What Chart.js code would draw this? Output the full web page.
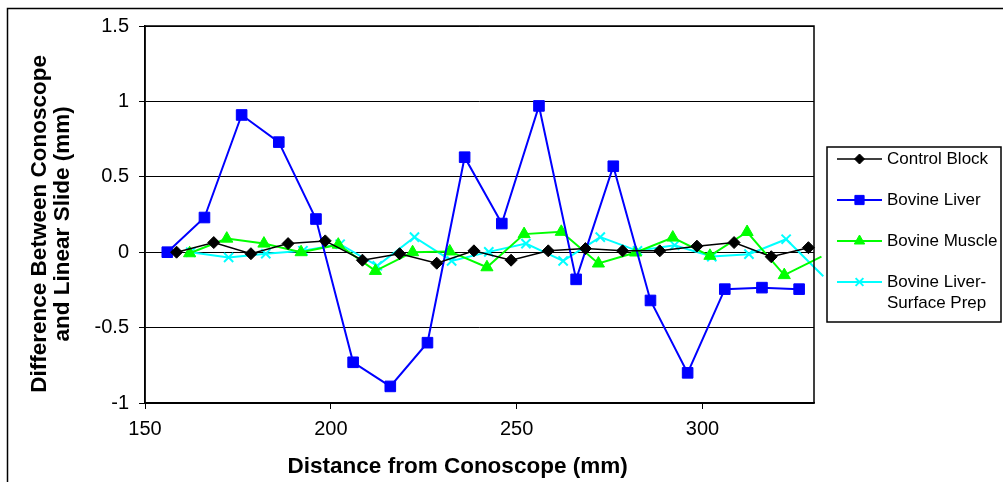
<!DOCTYPE html>
<html>
<head>
<meta charset="utf-8">
<script src="https://cdn.jsdelivr.net/npm/chart.js@4"></script>
<style>
  html, body { margin: 0; padding: 0; background: #fff; }
  #wrap { width: 1003px; height: 482px; }
</style>
</head>
<body>
<div id="wrap"><canvas id="graph"></canvas></div>
<script>
// values
const controlX = [158.5, 168.5, 178.5, 188.5, 198.5, 208.5, 218.5, 228.5, 238.5, 248.5, 258.5, 268.5, 278.5, 288.5, 298.5, 308.5, 318.5, 328.5]
const controlY = [0.00, 0.064, -0.01, 0.057, 0.075, -0.053, -0.01, -0.073, 0.009, -0.053, 0.009, 0.024, 0.009, 0.009, 0.04, 0.064, -0.03, 0.03]

const liverX = [156, 166, 176, 186, 196, 206, 216, 226, 236, 246, 256, 266, 276, 286, 296, 306, 316, 326]
const liverY = [0.00, 0.23, 0.91, 0.73, 0.22, -0.73, -0.89, -0.60, 0.63, 0.19, 0.97, -0.18, 0.57, -0.32, -0.80, -0.245, -0.235, -0.245]

const muscleX = [162, 172, 182, 192, 202, 212, 222, 232, 242, 252, 262, 272, 282, 292, 302, 312, 322, 332]
const muscleY = [-0.007, 0.09, 0.057, 0.0, 0.05, -0.124, 0.0, 0.005, -0.10, 0.12, 0.135, -0.075, -0.002, 0.097, -0.024, 0.134, -0.152, -0.03]

const surfaceX = [162.3, 172.5, 182.5, 192.5, 202.5, 212.5, 222.5, 232.5, 242.5, 252.5, 262.5, 272.5, 282.5, 292.5, 302.5, 312.5, 322.5, 332.5]
const surfaceY = [0.0, -0.035, -0.01, 0.01, 0.053, -0.09, 0.1, -0.058, 0.002, 0.057, -0.058, 0.1, 0.009, 0.046, -0.029, -0.013, 0.086, -0.16]

const seriesNames = ['Control Block', 'Bovine Liver', 'Bovine Muscle', ['Bovine Liver-', 'Surface Prep']]
const xTicks = [150, 200, 250, 300]
const yTicks = [-1, -0.5, 0, 0.5, 1, 1.5]

const FONT = '"Liberation Sans", Arial, sans-serif'

function pts(xs, ys) {
  return xs.map((x, i) => ({x: x, y: ys[i]}))
}

// hide the marker of a point that sits past the axis end (only its line shows)
const radiusIn = r => ctx => (ctx.raw && ctx.raw.x > 330 ? 0 : r)

const datasets = [
  {
    label: 'Control Block', data: pts(controlX, controlY),
    borderColor: '#000000', backgroundColor: '#000000', borderWidth: 1.5,
    pointStyle: 'rectRot', pointRadius: 6, pointBorderWidth: 1
  },
  {
    label: 'Bovine Liver', data: pts(liverX, liverY),
    borderColor: '#0000ff', backgroundColor: '#0000ff', borderWidth: 2,
    pointStyle: 'rect', pointRadius: 7.5, pointBorderWidth: 1
  },
  {
    label: 'Bovine Muscle', data: pts(muscleX, muscleY),
    borderColor: '#00ff00', backgroundColor: '#00ff00', borderWidth: 2,
    pointStyle: 'triangle', pointRadius: radiusIn(7), pointBorderWidth: 1
  },
  {
    label: 'Bovine Liver-Surface Prep', data: pts(surfaceX, surfaceY),
    borderColor: '#00ffff', backgroundColor: '#00ffff', borderWidth: 2,
    pointStyle: 'crossRot', pointRadius: radiusIn(6.5), pointBorderWidth: 2
  }
]

// frames: outer chart border, plot area border and the legend box
const framePlugin = {
  id: 'frames',
  beforeDraw(chart) {
    const ctx = chart.ctx
    ctx.save()
    ctx.fillStyle = '#ffffff'
    ctx.fillRect(0, 0, chart.width, chart.height)
    ctx.strokeStyle = '#000'
    ctx.lineWidth = 1.5
    ctx.strokeRect(7.5, 8.5, chart.width + 10, chart.height + 10)
    ctx.restore()
  },
  afterDraw(chart) {
    const ctx = chart.ctx
    const a = chart.chartArea
    ctx.save()
    ctx.strokeStyle = '#000'
    ctx.lineWidth = 1.5
    ctx.strokeRect(a.left, a.top, a.right - a.left, a.bottom - a.top)

    // legend
    const bx = 827, by = 147, bw = 174, bh = 175
    ctx.lineWidth = 1.5
    ctx.strokeRect(bx, by, bw, bh)
    const rows = [159, 200, 241, 282]
    ctx.font = '17px ' + FONT
    ctx.textBaseline = 'middle'
    ctx.textAlign = 'left'
    chart.data.datasets.forEach((ds, i) => {
      const y = rows[i]
      ctx.strokeStyle = ds.borderColor
      ctx.lineWidth = ds.borderWidth
      ctx.beginPath()
      ctx.moveTo(837, y)
      ctx.lineTo(882, y)
      ctx.stroke()
      ctx.fillStyle = ds.backgroundColor
      ctx.strokeStyle = ds.borderColor
      ctx.lineWidth = ds.pointBorderWidth
      const r = typeof ds.pointRadius === 'function' ? (ds.pointStyle === 'triangle' ? 7 : 6.5) : ds.pointRadius
      Chart.helpers.drawPoint(ctx, {pointStyle: ds.pointStyle, radius: r - 1, rotation: 0, borderWidth: ds.pointBorderWidth}, 859.5, y)
      ctx.fillStyle = '#000'
      const name = seriesNames[i]
      if (Array.isArray(name)) {
        name.forEach((t, k) => ctx.fillText(t, 887, y + k * 21))
      } else {
        ctx.fillText(name, 887, y)
      }
    })
    ctx.restore()
  }
}

new Chart(document.getElementById('graph'), {
  type: 'line',
  data: { datasets: datasets },
  options: {
    responsive: true,
    maintainAspectRatio: false,
    animation: false,
    layout: { padding: { left: 0, top: 26, right: 189, bottom: 0 } },
    datasets: { line: { clip: false, tension: 0, fill: false } },
    plugins: {
      legend: { display: false },
      tooltip: { enabled: false }
    },
    scales: {
      x: {
        type: 'linear',
        min: 150,
        max: 330,
        afterBuildTicks: s => { s.ticks = xTicks.map(v => ({value: v})) },
        afterFit: s => { s.height = 79 },
        grid: { drawOnChartArea: false, drawTicks: true, tickLength: 6, color: '#000' },
        border: { display: true, color: '#000', width: 1.5 },
        ticks: { color: '#000', padding: 8, font: { family: FONT, size: 20 }, callback: v => String(v) },
        title: {
          display: true,
          // trailing spaces move the title a bit left, it sits off-centre in the original
          text: 'Distance from Conoscope (mm)       ',
          color: '#000',
          font: { family: FONT, size: 22.5, weight: 'bold', lineHeight: 1.0 },
          padding: { top: 0, bottom: 4 }
        }
      },
      y: {
        type: 'linear',
        min: -1,
        max: 1.5,
        afterBuildTicks: s => { s.ticks = yTicks.map(v => ({value: v})) },
        afterFit: s => { s.width = 145 },
        grid: { drawOnChartArea: true, drawTicks: true, tickLength: 6, color: '#000', lineWidth: 1 },
        border: { display: true, color: '#000', width: 1.5 },
        ticks: { color: '#000', padding: 10, font: { family: FONT, size: 20 }, callback: v => String(v) },
        title: {
          display: true,
          // trailing spaces nudge the rotated title a little lower, as in the original
          text: ['Difference Between Conoscope   ', 'and Linear Slide (mm)   '],
          color: '#000',
          font: { family: FONT, size: 22.5, weight: 'bold', lineHeight: 1.0 },
          padding: { top: 29, bottom: 0 }
        }
      }
    }
  },
  plugins: [framePlugin]
})
</script>
</body>
</html>
